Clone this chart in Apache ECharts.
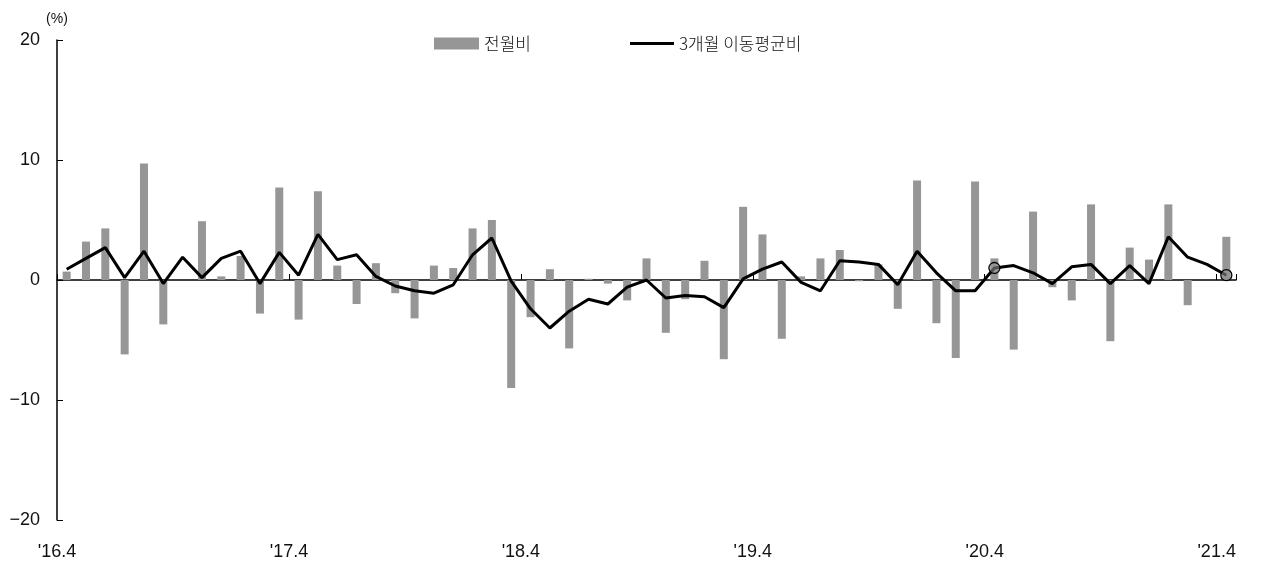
<!DOCTYPE html>
<html>
<head>
<meta charset="utf-8">
<script src="https://cdn.jsdelivr.net/npm/echarts@6/dist/echarts.min.js"></script>
<style>
html,body{margin:0;padding:0;background:#fff;}
#chart{width:1266px;height:569px;}
</style>
</head>
<body>
<div id="chart"></div>
<script>
const categories = [
 "'16.4","'16.5","'16.6","'16.7","'16.8","'16.9","'16.10","'16.11","'16.12","'17.1","'17.2","'17.3",
 "'17.4","'17.5","'17.6","'17.7","'17.8","'17.9","'17.10","'17.11","'17.12","'18.1","'18.2","'18.3",
 "'18.4","'18.5","'18.6","'18.7","'18.8","'18.9","'18.10","'18.11","'18.12","'19.1","'19.2","'19.3",
 "'19.4","'19.5","'19.6","'19.7","'19.8","'19.9","'19.10","'19.11","'19.12","'20.1","'20.2","'20.3",
 "'20.4","'20.5","'20.6","'20.7","'20.8","'20.9","'20.10","'20.11","'20.12","'21.1","'21.2","'21.3",
 "'21.4"
];
const tickLabels = ["'16.4", "'17.4", "'18.4", "'19.4", "'20.4", "'21.4"];
const momValues = [
 0.7, 3.2, 4.3, -6.2, 9.7, -3.7, 0, 4.9, 0.3, 2.0, -2.8, 7.7,
 -3.3, 7.4, 1.2, -2.0, 1.4, -1.1, -3.2, 1.2, 1.0, 4.3, 5.0, -9.0,
 -3.1, 0.9, -5.7, 0.1, -0.3, -1.7, 1.8, -4.4, -1.6, 1.6, -6.6, 6.1,
 3.8, -4.9, 0.3, 1.8, 2.5, -0.1, 1.3, -2.4, 8.3, -3.6, -6.5, 8.2,
 1.8, -5.8, 5.7, -0.6, -1.7, 6.3, -5.1, 2.7, 1.7, 6.3, -2.1, 0,
 3.6
];
const ma3Values = [
 0.9, 1.8, 2.7, 0.2, 2.4, -0.3, 1.9, 0.2, 1.8, 2.4, -0.3, 2.3,
 0.4, 3.8, 1.7, 2.1, 0.3, -0.5, -0.9, -1.1, -0.4, 2.1, 3.5, -0.1,
 -2.4, -4.0, -2.6, -1.6, -2.0, -0.6, 0.0, -1.5, -1.3, -1.4, -2.3, 0.1,
 0.9, 1.5, -0.2, -0.9, 1.6, 1.5, 1.3, -0.4, 2.4, 0.6, -0.9, -0.9,
 1.0, 1.2, 0.6, -0.3, 1.1, 1.3, -0.3, 1.2, -0.3, 3.6, 1.9, 1.3,
 0.4
];
const markedIndices = [48, 60];
const seriesNames = ['전월비', '3개월 이동평균비'];

const FONT = '"Noto Sans CJK KR", "Noto Sans", sans-serif';
const NUMFONT = '"Liberation Sans", "DejaVu Sans", sans-serif';
const lineData = ma3Values.map((v, i) => markedIndices.indexOf(i) >= 0 ? {
  value: v, symbol: 'circle', symbolSize: 11,
  itemStyle: {color: 'rgba(150,150,150,0.55)', borderColor: '#000', borderWidth: 1.3}
} : v);

const chart = echarts.init(document.getElementById('chart'), null, {renderer: 'canvas'});
chart.setOption({
  animation: false,
  backgroundColor: '#fff',
  textStyle: {fontFamily: FONT, color: '#000'},
  legend: [{
    data: [seriesNames[0]], left: 429, top: 30, icon: 'rect',
    itemWidth: 45, itemHeight: 12, itemGap: 4,
    textStyle: {fontSize: 17, color: '#111', fontFamily: FONT, fontWeight: 300}
  }, {
    data: [seriesNames[1]], left: 625, top: 30, icon: 'rect',
    itemWidth: 44, itemHeight: 3,
    textStyle: {fontSize: 17, color: '#111', fontFamily: FONT, fontWeight: 300}
  }],
  grid: {left: 57, right: 30, top: 40, bottom: 49, containLabel: false},
  xAxis: [{
    type: 'category', data: categories, boundaryGap: true, position: 'bottom',
    axisLine: {onZero: true, lineStyle: {color: '#000', width: 1.5}},
    axisTick: {show: true, inside: true, length: 6, interval: 11, lineStyle: {color: '#000', width: 1}},
    axisLabel: {show: false}, splitLine: {show: false}
  }, {
    type: 'value', min: 0, max: 61, interval: 12, position: 'bottom',
    axisLine: {show: false, onZero: false}, axisTick: {show: false}, splitLine: {show: false},
    axisLabel: {
      show: true, margin: 23, fontSize: 18, color: '#111', fontFamily: NUMFONT,
      formatter: v => (v % 12 === 0 && tickLabels[v / 12] !== undefined) ? tickLabels[v / 12] : ''
    }
  }],
  yAxis: {
    type: 'value', min: -20, max: 20, interval: 10,
    name: '(%)', nameLocation: 'end', nameGap: 14,
    nameTextStyle: {fontSize: 14, color: '#111', fontFamily: NUMFONT, align: 'center'},
    axisLine: {show: true, onZero: false, lineStyle: {color: '#000', width: 1.5}},
    axisTick: {show: true, inside: true, length: 6, lineStyle: {color: '#000'}},
    splitLine: {show: false},
    axisLabel: {fontSize: 18, color: '#111', margin: 17, fontFamily: NUMFONT,
      formatter: v => v < 0 ? '\u2212' + Math.abs(v) : String(v)}
  },
  series: [{
    name: seriesNames[0], type: 'bar', data: momValues, xAxisIndex: 0,
    barWidth: 8, itemStyle: {color: '#969696'}
  }, {
    name: seriesNames[1], type: 'line', data: lineData, xAxisIndex: 0,
    symbol: 'none', showSymbol: true,
    lineStyle: {color: '#000', width: 3}, itemStyle: {color: '#000'}, z: 5
  }]
});
</script>
</body>
</html>
